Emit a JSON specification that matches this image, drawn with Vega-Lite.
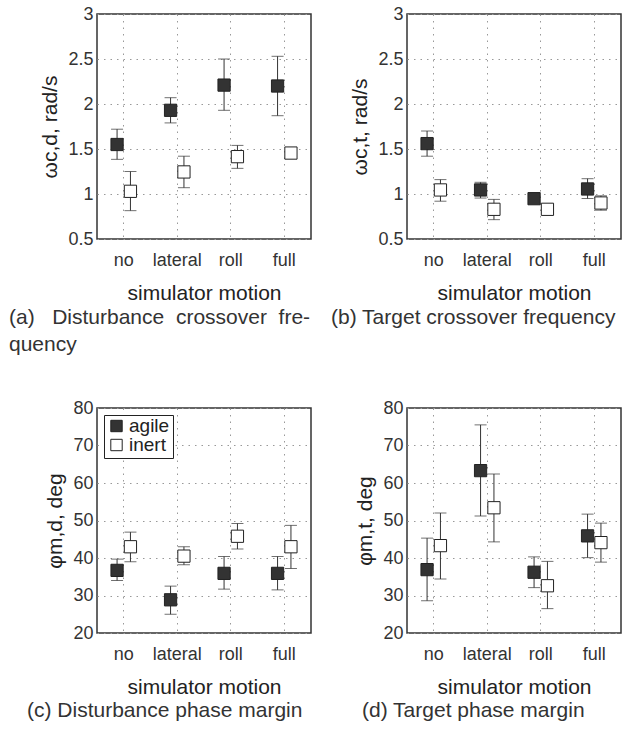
{
  "$schema": "https://vega.github.io/schema/vega-lite/v6.json",
  "padding": {"left": 8, "top": 4, "right": 5, "bottom": 5},
  "background": "white",
  "data": {"values": [
    {"panel": "a", "motion": "no", "group": "agile", "mean": 1.55, "lo": 1.385, "hi": 1.72},
    {"panel": "a", "motion": "no", "group": "inert", "mean": 1.03, "lo": 0.815, "hi": 1.25},
    {"panel": "a", "motion": "lateral", "group": "agile", "mean": 1.93, "lo": 1.79, "hi": 2.07},
    {"panel": "a", "motion": "lateral", "group": "inert", "mean": 1.245, "lo": 1.07, "hi": 1.42},
    {"panel": "a", "motion": "roll", "group": "agile", "mean": 2.21, "lo": 1.93, "hi": 2.5},
    {"panel": "a", "motion": "roll", "group": "inert", "mean": 1.415, "lo": 1.285, "hi": 1.54},
    {"panel": "a", "motion": "full", "group": "agile", "mean": 2.2, "lo": 1.87, "hi": 2.53},
    {"panel": "a", "motion": "full", "group": "inert", "mean": 1.455, "lo": 1.42, "hi": 1.49},
    {"panel": "b", "motion": "no", "group": "agile", "mean": 1.56, "lo": 1.42, "hi": 1.7},
    {"panel": "b", "motion": "no", "group": "inert", "mean": 1.045, "lo": 0.92, "hi": 1.16},
    {"panel": "b", "motion": "lateral", "group": "agile", "mean": 1.045, "lo": 0.955, "hi": 1.13},
    {"panel": "b", "motion": "lateral", "group": "inert", "mean": 0.83, "lo": 0.715, "hi": 0.94},
    {"panel": "b", "motion": "roll", "group": "agile", "mean": 0.948, "lo": 0.91, "hi": 0.98},
    {"panel": "b", "motion": "roll", "group": "inert", "mean": 0.83, "lo": 0.8, "hi": 0.85},
    {"panel": "b", "motion": "full", "group": "agile", "mean": 1.056, "lo": 0.95, "hi": 1.17},
    {"panel": "b", "motion": "full", "group": "inert", "mean": 0.9, "lo": 0.82, "hi": 0.98},
    {"panel": "c", "motion": "no", "group": "agile", "mean": 36.7, "lo": 34.0, "hi": 39.7},
    {"panel": "c", "motion": "no", "group": "inert", "mean": 43.0, "lo": 39.0, "hi": 46.9},
    {"panel": "c", "motion": "lateral", "group": "agile", "mean": 28.85, "lo": 25.0, "hi": 32.5},
    {"panel": "c", "motion": "lateral", "group": "inert", "mean": 40.5, "lo": 38.2, "hi": 43.0},
    {"panel": "c", "motion": "roll", "group": "agile", "mean": 35.9, "lo": 31.7, "hi": 40.4},
    {"panel": "c", "motion": "roll", "group": "inert", "mean": 45.8, "lo": 42.4, "hi": 49.2},
    {"panel": "c", "motion": "full", "group": "agile", "mean": 35.9, "lo": 31.5, "hi": 40.4},
    {"panel": "c", "motion": "full", "group": "inert", "mean": 43.0, "lo": 37.2, "hi": 48.7},
    {"panel": "d", "motion": "no", "group": "agile", "mean": 36.9, "lo": 28.6, "hi": 45.3},
    {"panel": "d", "motion": "no", "group": "inert", "mean": 43.3, "lo": 34.4, "hi": 52.0},
    {"panel": "d", "motion": "lateral", "group": "agile", "mean": 63.3, "lo": 51.2, "hi": 75.5},
    {"panel": "d", "motion": "lateral", "group": "inert", "mean": 53.4, "lo": 44.3, "hi": 62.4},
    {"panel": "d", "motion": "roll", "group": "agile", "mean": 36.2, "lo": 32.1, "hi": 40.3},
    {"panel": "d", "motion": "roll", "group": "inert", "mean": 32.6, "lo": 26.5, "hi": 39.1},
    {"panel": "d", "motion": "full", "group": "agile", "mean": 45.9, "lo": 40.1, "hi": 51.7},
    {"panel": "d", "motion": "full", "group": "inert", "mean": 44.1, "lo": 38.9, "hi": 49.3}
  ]},
  "columns": 2,
  "bounds": "flush",
  "spacing": {"row": 169, "column": 96},
  "resolve": {"scale": {"fill": "independent"}, "legend": {"fill": "independent"}},
  "concat": [
    {
      "width": 214, "height": 225,
      "transform": [{"filter": "datum.panel === 'a'"}],
      "title": {"text": ["(a)\u00a0\u00a0\u00a0Disturbance\u00a0\u00a0crossover\u00a0\u00a0fre-", "quency"], "orient": "bottom", "anchor": "start", "frame": "group", "dx": -88, "offset": 4},
      "encoding": {
        "x": {"field": "motion", "type": "nominal", "sort": ["no", "lateral", "roll", "full"], "scale": {"type": "band", "paddingInner": 0, "paddingOuter": 0}, "axis": {"title": "simulator motion", "bandPosition": 0.5}},
        "xOffset": {"field": "group", "type": "nominal", "scale": {"paddingInner": 0, "paddingOuter": 1.43}}
      },
      "layer": [
        {"mark": {"type": "rule", "color": "#333", "strokeWidth": 1}, "encoding": {"y": {"field": "lo", "type": "quantitative", "title": "ωc,d, rad/s", "scale": {"domain": [0.5, 3], "nice": false}, "axis": {"values": [0.5, 1, 1.5, 2, 2.5, 3], "format": "~g"}}, "y2": {"field": "hi"}}},
        {"mark": {"type": "tick", "color": "#333", "size": 12, "thickness": 1}, "encoding": {"y": {"field": "lo", "type": "quantitative", "title": "ωc,d, rad/s", "axis": {"values": [0.5, 1, 1.5, 2, 2.5, 3], "format": "~g"}}}},
        {"mark": {"type": "tick", "color": "#333", "size": 12, "thickness": 1}, "encoding": {"y": {"field": "hi", "type": "quantitative", "title": "ωc,d, rad/s", "axis": {"values": [0.5, 1, 1.5, 2, 2.5, 3], "format": "~g"}}}},
        {"mark": {"type": "square", "size": 150, "stroke": "#222", "strokeWidth": 1, "opacity": 1}, "encoding": {"y": {"field": "mean", "type": "quantitative", "title": "ωc,d, rad/s", "axis": {"values": [0.5, 1, 1.5, 2, 2.5, 3], "format": "~g"}}, "fill": {"field": "group", "type": "nominal", "scale": {"domain": ["agile", "inert"], "range": ["#333333", "#ffffff"]}, "legend": null}}}
      ]
    },
    {
      "width": 214, "height": 225,
      "transform": [{"filter": "datum.panel === 'b'"}],
      "title": {"text": "(b) Target crossover frequency", "orient": "bottom", "anchor": "start", "frame": "group", "dx": -76, "offset": 4},
      "encoding": {
        "x": {"field": "motion", "type": "nominal", "sort": ["no", "lateral", "roll", "full"], "scale": {"type": "band", "paddingInner": 0, "paddingOuter": 0}, "axis": {"title": "simulator motion", "bandPosition": 0.5}},
        "xOffset": {"field": "group", "type": "nominal", "scale": {"paddingInner": 0, "paddingOuter": 1.43}}
      },
      "layer": [
        {"mark": {"type": "rule", "color": "#333", "strokeWidth": 1}, "encoding": {"y": {"field": "lo", "type": "quantitative", "title": "ωc,t, rad/s", "scale": {"domain": [0.5, 3], "nice": false}, "axis": {"values": [0.5, 1, 1.5, 2, 2.5, 3], "format": "~g"}}, "y2": {"field": "hi"}}},
        {"mark": {"type": "tick", "color": "#333", "size": 12, "thickness": 1}, "encoding": {"y": {"field": "lo", "type": "quantitative", "title": "ωc,t, rad/s", "axis": {"values": [0.5, 1, 1.5, 2, 2.5, 3], "format": "~g"}}}},
        {"mark": {"type": "tick", "color": "#333", "size": 12, "thickness": 1}, "encoding": {"y": {"field": "hi", "type": "quantitative", "title": "ωc,t, rad/s", "axis": {"values": [0.5, 1, 1.5, 2, 2.5, 3], "format": "~g"}}}},
        {"mark": {"type": "square", "size": 150, "stroke": "#222", "strokeWidth": 1, "opacity": 1}, "encoding": {"y": {"field": "mean", "type": "quantitative", "title": "ωc,t, rad/s", "axis": {"values": [0.5, 1, 1.5, 2, 2.5, 3], "format": "~g"}}, "fill": {"field": "group", "type": "nominal", "scale": {"domain": ["agile", "inert"], "range": ["#333333", "#ffffff"]}, "legend": null}}}
      ]
    },
    {
      "width": 214, "height": 225,
      "transform": [{"filter": "datum.panel === 'c'"}],
      "title": {"text": "(c) Disturbance phase margin", "orient": "bottom", "anchor": "start", "frame": "group", "dx": -70, "offset": 3},
      "encoding": {
        "x": {"field": "motion", "type": "nominal", "sort": ["no", "lateral", "roll", "full"], "scale": {"type": "band", "paddingInner": 0, "paddingOuter": 0}, "axis": {"title": "simulator motion", "bandPosition": 0.5}},
        "xOffset": {"field": "group", "type": "nominal", "scale": {"paddingInner": 0, "paddingOuter": 1.43}}
      },
      "layer": [
        {"mark": {"type": "rule", "color": "#333", "strokeWidth": 1}, "encoding": {"y": {"field": "lo", "type": "quantitative", "title": "φm,d, deg", "scale": {"domain": [20, 80], "nice": false}, "axis": {"values": [20, 30, 40, 50, 60, 70, 80]}}, "y2": {"field": "hi"}}},
        {"mark": {"type": "tick", "color": "#333", "size": 12, "thickness": 1}, "encoding": {"y": {"field": "lo", "type": "quantitative", "title": "φm,d, deg", "axis": {"values": [20, 30, 40, 50, 60, 70, 80]}}}},
        {"mark": {"type": "tick", "color": "#333", "size": 12, "thickness": 1}, "encoding": {"y": {"field": "hi", "type": "quantitative", "title": "φm,d, deg", "axis": {"values": [20, 30, 40, 50, 60, 70, 80]}}}},
        {"mark": {"type": "square", "size": 150, "stroke": "#222", "strokeWidth": 1, "opacity": 1}, "encoding": {"y": {"field": "mean", "type": "quantitative", "title": "φm,d, deg", "axis": {"values": [20, 30, 40, 50, 60, 70, 80]}}, "fill": {"field": "group", "type": "nominal", "scale": {"domain": ["agile", "inert"], "range": ["#333333", "#ffffff"]}, "legend": {"orient": "top-left", "title": null, "offset": 7, "strokeColor": "#222", "padding": 3, "labelFontSize": 19, "labelColor": "#222", "symbolType": "square", "symbolSize": 130, "symbolStrokeColor": "#222", "symbolStrokeWidth": 1, "rowPadding": 0, "clipHeight": 16, "labelOffset": 3, "fillColor": "white"}}}}
      ]
    },
    {
      "width": 214, "height": 225,
      "transform": [{"filter": "datum.panel === 'd'"}],
      "title": {"text": "(d) Target phase margin", "orient": "bottom", "anchor": "start", "frame": "group", "dx": -45, "offset": 3},
      "encoding": {
        "x": {"field": "motion", "type": "nominal", "sort": ["no", "lateral", "roll", "full"], "scale": {"type": "band", "paddingInner": 0, "paddingOuter": 0}, "axis": {"title": "simulator motion", "bandPosition": 0.5}},
        "xOffset": {"field": "group", "type": "nominal", "scale": {"paddingInner": 0, "paddingOuter": 1.43}}
      },
      "layer": [
        {"mark": {"type": "rule", "color": "#333", "strokeWidth": 1}, "encoding": {"y": {"field": "lo", "type": "quantitative", "title": "φm,t, deg", "scale": {"domain": [20, 80], "nice": false}, "axis": {"values": [20, 30, 40, 50, 60, 70, 80]}}, "y2": {"field": "hi"}}},
        {"mark": {"type": "tick", "color": "#333", "size": 12, "thickness": 1}, "encoding": {"y": {"field": "lo", "type": "quantitative", "title": "φm,t, deg", "axis": {"values": [20, 30, 40, 50, 60, 70, 80]}}}},
        {"mark": {"type": "tick", "color": "#333", "size": 12, "thickness": 1}, "encoding": {"y": {"field": "hi", "type": "quantitative", "title": "φm,t, deg", "axis": {"values": [20, 30, 40, 50, 60, 70, 80]}}}},
        {"mark": {"type": "square", "size": 150, "stroke": "#222", "strokeWidth": 1, "opacity": 1}, "encoding": {"y": {"field": "mean", "type": "quantitative", "title": "φm,t, deg", "axis": {"values": [20, 30, 40, 50, 60, 70, 80]}}, "fill": {"field": "group", "type": "nominal", "scale": {"domain": ["agile", "inert"], "range": ["#333333", "#ffffff"]}, "legend": null}}}
      ]
    }
  ],
  "config": {
    "font": "Liberation Sans",
    "view": {"stroke": "#333", "strokeWidth": 1.5},
    "axis": {"domain": false, "ticks": false, "grid": true, "gridColor": "#999", "gridDash": [1.5, 5], "gridWidth": 1, "labelFontSize": 18, "labelColor": "#333", "labelFont": "Liberation Sans", "titleFont": "Liberation Sans", "titleFontSize": 21, "titleColor": "#222", "titleFontWeight": "normal"},
    "axisX": {"labelPadding": 12, "titlePadding": 13, "labelAngle": 0},
    "axisY": {"labelPadding": 4, "titlePadding": 7},
    "title": {"font": "Liberation Sans", "fontSize": 21, "fontWeight": "normal", "color": "#333", "lineHeight": 27},
    "legend": {"labelFont": "Liberation Sans"}
  }
}
